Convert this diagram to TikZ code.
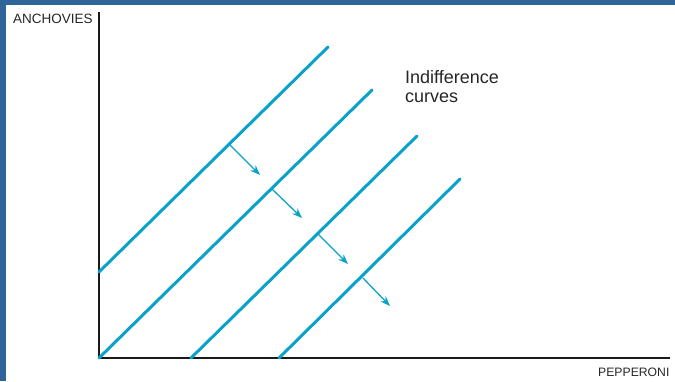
\documentclass[tikz,border=0pt]{standalone}
\usepackage{fontspec}
\setmainfont{Liberation Sans}
\usetikzlibrary{arrows.meta}
\definecolor{frameblue}{HTML}{2E6699}
\definecolor{curvecyan}{HTML}{0AA2C8}
\definecolor{axisgray}{HTML}{1A1A1A}
\tikzset{
  icurve/.style={curvecyan, line width=3pt, line cap=round},
  shiftarrow/.style={curvecyan, line width=1.3pt, -{Stealth[length=10pt,width=7.5pt]}},
  axisline/.style={axisgray, line width=2pt},
  lbl/.style={inner sep=0pt, anchor=base west, text=black!85}
}
\begin{document}
\begin{tikzpicture}[x=1pt,y=-1pt]
\useasboundingbox (0,0) rectangle (675,381);
% frame
\fill[frameblue] (0,0) rectangle (675,5);
\fill[frameblue] (0,0) rectangle (6,381);
% axes
\coordinate (top) at (99,12);
\coordinate (origin) at (99,358);
\coordinate (right) at (670,358);
\draw[axisline] (top) -- (origin) -- (right);
% curves
\coordinate (c1a) at (99,272);  \coordinate (c1b) at (328,47);
\coordinate (c2a) at (99,358);  \coordinate (c2b) at (372,90);
\coordinate (c3a) at (191,358); \coordinate (c3b) at (417,136);
\coordinate (c4a) at (279,358); \coordinate (c4b) at (460,179);
\draw[icurve] (c1a) -- (c1b);
\draw[icurve] (c2a) -- (c2b);
\draw[icurve] (c3a) -- (c3b);
\draw[icurve] (c4a) -- (c4b);
% arrows
\coordinate (a1s) at (230,145); \coordinate (a1e) at (260,175);
\coordinate (a2s) at (272,189); \coordinate (a2e) at (302,218);
\coordinate (a3s) at (318,234); \coordinate (a3e) at (348,264);
\coordinate (a4s) at (363,278); \coordinate (a4e) at (390,306);
\draw[shiftarrow] (a1s) -- (a1e);
\draw[shiftarrow] (a2s) -- (a2e);
\draw[shiftarrow] (a3s) -- (a3e);
\draw[shiftarrow] (a4s) -- (a4e);
% labels
\node[lbl, font=\fontsize{13.5}{15}\selectfont] (ylab) at (13,23) {ANCHOVIES};
\node[lbl, font=\fontsize{12.2}{14}\selectfont] (xlab) at (598,376) {PEPPERONI};
\node[lbl, font=\fontsize{18}{19}\selectfont] (ic1) at (405,83) {Indifference};
\node[lbl, font=\fontsize{18}{19}\selectfont] (ic2) at (405,102) {curves};
\end{tikzpicture}
\end{document}
